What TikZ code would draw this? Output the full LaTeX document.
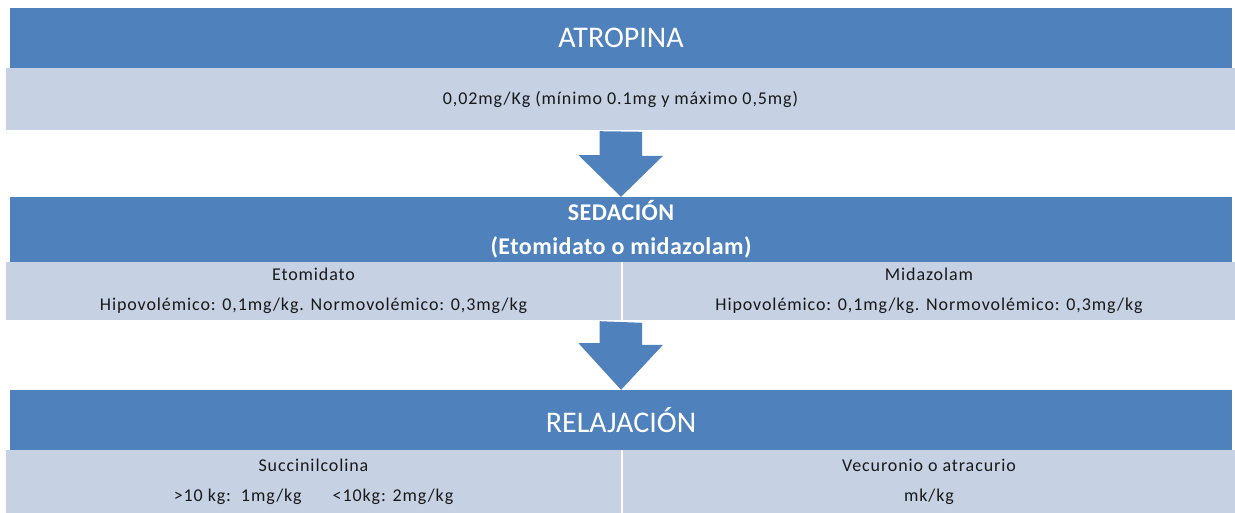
\documentclass[tikz,border=0pt]{standalone}
\usepackage{fontspec}
\setmainfont{Carlito}
\usetikzlibrary{calc}

\definecolor{azul}{RGB}{79,129,189}
\definecolor{celeste}{RGB}{198,209,227}

\begin{document}
\begin{tikzpicture}[x=1pt,y=-1pt,
    cabecera/.style={fill=azul, text=white, inner sep=0pt, minimum width=1222pt},
    dosis/.style={fill=celeste, text=black!90, inner sep=0pt, align=center,
        font=\fontsize{18}{30}\selectfont\addfontfeatures{LetterSpace=5}},
    titulo/.style={font=\fontsize{30}{36}\selectfont}]
    \useasboundingbox (0,0) rectangle (1235,513);

    % atropina
    \node [cabecera, titulo, minimum height=60pt] (atropina) at (621,38) {ATROPINA};
    \node [dosis, minimum width=1229pt, minimum height=62pt] (atrodosis) at (620.5,99)
        {0,02mg/Kg (mínimo 0.1mg y máximo 0,5mg)};

    % sedacion
    \node [cabecera, minimum height=65pt, align=center,
        font=\bfseries\fontsize{24}{34}\selectfont\addfontfeatures{LetterSpace=2}]
        (sedacion) at (621,229.5) {SEDACIÓN\\(Etomidato o midazolam)};
    \node [dosis, minimum width=615pt, minimum height=58pt] (etomidato) at (313.5,291)
        {Etomidato\\Hipovolémico: 0,1mg/kg. Normovolémico: 0,3mg/kg};
    \node [dosis, minimum width=612pt, minimum height=58pt] (midazolam) at (929,291)
        {Midazolam\\Hipovolémico: 0,1mg/kg. Normovolémico: 0,3mg/kg};

    % relajacion
    \node [cabecera, titulo, minimum height=60pt] (relajacion) at (621,420) {RELAJACIÓN};
    \node [dosis, minimum width=615pt, minimum height=63pt] (succinil) at (313.5,481.5)
        {Succinilcolina\\>10 kg:\ \ 1mg/kg\hspace{31pt}<10kg: 2mg/kg};
    \node [dosis, minimum width=612pt, minimum height=63pt] (vecuronio) at (929,481.5)
        {Vecuronio o atracurio\\mk/kg};

    % flechas
    \fill [azul] ($(atrodosis.south)+(-21,1)$) -- ++(0,24) -- ++(-21,0)
        -- (sedacion.north) -- ++(42,-41) -- ++(-21,0) -- ++(0,-24) -- cycle;
    \fill [azul] ($(etomidato.south -| atrodosis.south)+(-21,1)$) -- ++(0,22) -- ++(-21,0)
        -- (relajacion.north) -- ++(42,-45) -- ++(-21,0) -- ++(0,-22) -- cycle;
\end{tikzpicture}
\end{document}
